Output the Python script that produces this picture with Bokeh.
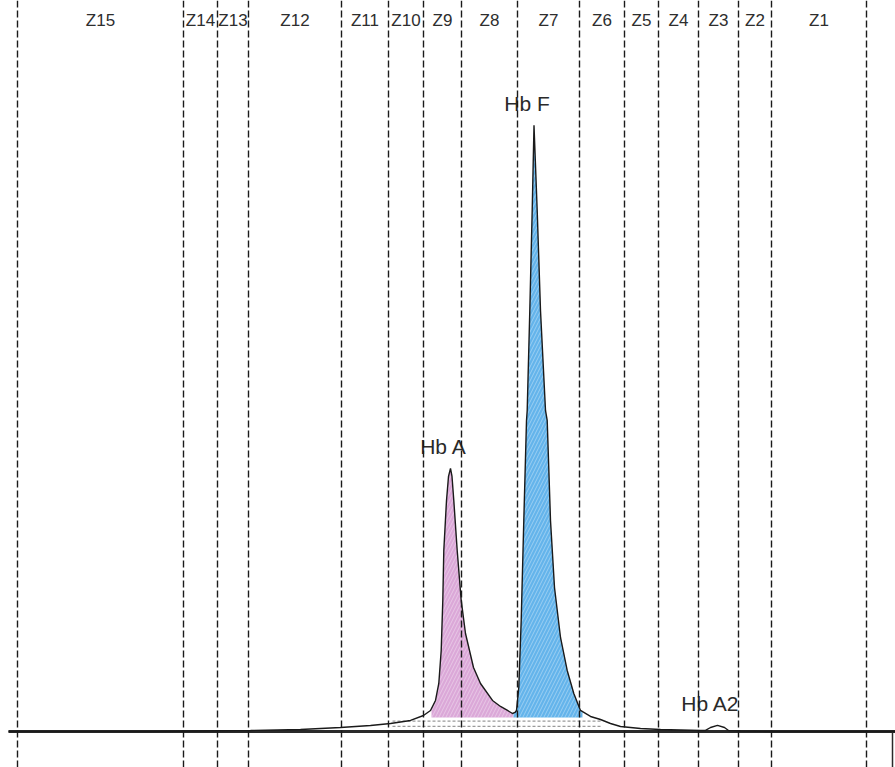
import numpy as np
from bokeh.plotting import figure
from bokeh.models import Range1d, Span, ColumnDataSource
from bokeh.embed import file_html
from bokeh.resources import INLINE
from bokeh.core.properties import value

# Zone boundaries along the migration axis and the zone names between them
zone_bounds = [17, 183, 217, 248, 341, 388, 423, 461, 517, 579, 624, 658, 698, 738, 771, 866]
zone_names = ["Z15", "Z14", "Z13", "Z12", "Z11", "Z10", "Z9", "Z8",
              "Z7", "Z6", "Z5", "Z4", "Z3", "Z2", "Z1"]

# Electropherogram trace: migration position vs. relative absorbance (%)
mobility = [8, 150, 200, 250, 300, 340, 370, 390, 410, 423, 430, 435, 438.3, 440.7,
            442.3, 443.3, 446, 448, 450, 451.5, 453.3, 456.7, 460.7, 465, 473, 480,
            492, 500, 507, 512, 514.5, 516, 518.3, 520.7, 523.3, 526, 526.7, 529.3,
            531.7, 533.5, 536.7, 540, 545, 546.7, 550, 554, 560, 566.7, 573.3, 580,
            590, 600, 610, 620, 640, 660, 680, 700, 705, 710, 717, 724, 728, 740,
            770, 895]
signal = [0.0, 0.0, 0.08, 0.17, 0.33, 0.66, 0.99, 1.32, 1.82, 2.64, 3.47, 5.12, 7.92, 13.37,
          21.62, 29.87, 38.12, 42.08, 43.4, 42.08, 38.12, 29.87, 21.62, 16.17, 10.56, 7.92,
          5.12, 4.13, 3.47, 2.97, 3.14, 3.47, 7.26, 18.32, 34.82, 51.32, 52.97, 69.47,
          85.97, 100.0, 85.97, 69.47, 52.97, 51.32, 34.82, 23.76, 15.51, 10.07, 6.27, 3.47,
          2.48, 1.98, 1.32, 0.83, 0.5, 0.33, 0.25, 0.17, 0.17, 0.66, 1.0, 0.66, 0.17, 0.08,
          0.0, 0.0]

# Identified fractions: name, start, end, fill colour
fraction_names = ["Hb A", "Hb F"]
fraction_start = [431, 513]
fraction_end = [513, 582]
fraction_colors = ["#d9a3d6", "#5cb0ea"]
fill_floor = 2.3

# Peak annotations
peak_names = ["Hb A", "Hb F", "Hb A2"]
peak_pos = [450, 533.5, 717]
peak_height = [43.4, 100.0, 1.0]

x = np.array(mobility, dtype=float)
y = np.array(signal, dtype=float)

p = figure(width=895, height=767, output_backend="svg", toolbar_location=None,
           x_range=Range1d(0, 895), y_range=Range1d(-5.94, 120.6),
           min_border=0, min_border_left=0, min_border_right=0,
           min_border_top=0, min_border_bottom=0)
p.axis.visible = False
p.grid.visible = False
p.outline_line_color = None
p.background_fill_color = "white"
p.border_fill_color = "white"

# Shaded fractions under the trace
for name, a, b, col in zip(fraction_names, fraction_start, fraction_end, fraction_colors):
    mask = (x > a) & (x < b)
    xs = np.concatenate([[a], x[mask], [b]])
    ys = np.concatenate([[np.interp(a, x, y)], y[mask], [np.interp(b, x, y)]])
    p.varea(x=xs, y1=np.full_like(xs, fill_floor), y2=ys, fill_color=col,
            fill_alpha=0.95, hatch_pattern="/", hatch_color="white",
            hatch_alpha=0.35, hatch_scale=7, hatch_weight=1)

# Dotted integration band beneath the fractions
band_x0 = 392
band_x1 = 600
for level in (1.7, 0.85):
    p.segment(x0=[band_x0], y0=[level], x1=[band_x1], y1=[level],
              line_color="#9a9a9a", line_width=1.2, line_dash="3 2")

# Zone boundary lines
for xb in zone_bounds:
    p.add_layout(Span(location=xb, dimension="height", line_color="#1a1a1a",
                      line_width=1.4, line_dash="7 3"))

# Baseline and end marker
p.segment(x0=[8], y0=[0], x1=[895], y1=[0], line_color="#2a2a2a", line_width=2.8)
p.segment(x0=[892], y0=[0], x1=[892], y1=[-5.94], line_color="#2a2a2a", line_width=1.5)

# The trace
p.line(x, y, line_color="#1a1a1a", line_width=1.4)

# Zone names centred between their boundaries
mids = [(zone_bounds[i] + zone_bounds[i + 1]) / 2 for i in range(len(zone_names))]
zsrc = ColumnDataSource(dict(x=mids, y=[120.6] * len(mids), t=zone_names))
p.text(x="x", y="y", text="t", source=zsrc, text_align="center",
       text_baseline="top", y_offset=10, text_font=value("Liberation Sans"),
       text_font_size="17px", text_color="#2e2e2e")

# Peak names above their maxima
psrc = ColumnDataSource(dict(x=peak_pos, y=peak_height, t=peak_names))
p.text(x="x", y="y", text="t", source=psrc, text_align="center",
       text_baseline="bottom", x_offset=-7, y_offset=-10,
       text_font=value("Liberation Sans"), text_font_size="21px",
       text_color="#2a2a2a")

open("out.html", "w").write(file_html(p, INLINE))
